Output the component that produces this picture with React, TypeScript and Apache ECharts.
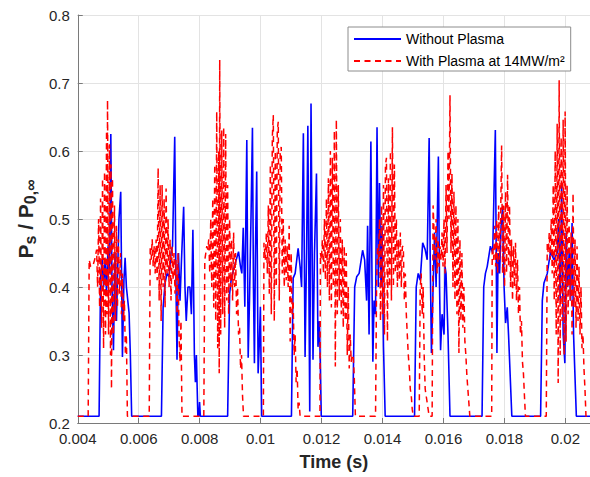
import React, { useEffect, useRef } from "react";
import * as echarts from "echarts";

// ---- data (time in s, pressure ratio) ----
const blueTime = [
  0.004, 0.0047, 0.00475, 0.0048, 0.004847, 0.0049, 0.004945, 0.004993, 0.005042, 0.005085, 0.005124, 0.005172,
  0.005221, 0.00527, 0.005319, 0.005352, 0.00541, 0.005466, 0.005515, 0.005554, 0.005596, 0.005684, 0.005726, 0.005769,
  0.006746, 0.006801, 0.006866, 0.006931, 0.006996, 0.007061, 0.00711, 0.007182, 0.007224, 0.007257, 0.007306, 0.007355,
  0.007404, 0.007475, 0.007518, 0.00756, 0.007615, 0.00768, 0.007729, 0.007778, 0.007827, 0.00786, 0.007892, 0.007941,
  0.007974, 0.007997, 0.008023,
  0.008918, 0.008983, 0.009032, 0.009136, 0.009276, 0.009341, 0.009384, 0.00943, 0.009482, 0.009547, 0.009592, 0.009635,
  0.009684, 0.009732, 0.009765, 0.009797, 0.00983, 0.009872, 0.009918, 0.00996, 0.009993, 0.010035,
  0.011012, 0.011068, 0.011133, 0.011231, 0.011296, 0.011345, 0.011403, 0.011459, 0.011508, 0.01155, 0.011612, 0.011654,
  0.011719, 0.011768, 0.011833, 0.011882, 0.011931, 0.01199,
  0.013022, 0.013087, 0.013152, 0.013233, 0.013347, 0.013413, 0.013478, 0.01351, 0.013559, 0.013618, 0.013657, 0.013683,
  0.013722, 0.013771, 0.01382, 0.013862, 0.013901, 0.01395, 0.013983, 0.014032, 0.014087,
  0.015051, 0.015106, 0.015171, 0.015237, 0.015318, 0.0154, 0.015465, 0.01553, 0.015563, 0.015605, 0.01566, 0.015709,
  0.015758, 0.015833, 0.015872, 0.015905, 0.015954, 0.016019, 0.016052, 0.016084, 0.016149, 0.016214,
  0.017266, 0.017321, 0.017377, 0.017435, 0.01754, 0.017615, 0.017702, 0.017754, 0.017793, 0.017842, 0.017891, 0.01794,
  0.017989, 0.018038, 0.018093, 0.018135, 0.018243,
  0.019187, 0.019243, 0.019298, 0.019406, 0.019513, 0.019624, 0.019732, 0.019781, 0.01983, 0.019879, 0.019928, 0.019983,
  0.020025, 0.020074, 0.020123, 0.020172, 0.02022, 0.020269, 0.02036, 0.020808,
];
const blueValue = [
  0.21, 0.21, 0.415, 0.44, 0.4, 0.44, 0.39, 0.46, 0.42, 0.625, 0.4, 0.307,
  0.45, 0.35, 0.44, 0.5, 0.54, 0.297, 0.41, 0.443, 0.4, 0.362, 0.3, 0.21,
  0.21, 0.37, 0.406, 0.42, 0.415, 0.45, 0.46, 0.621, 0.4, 0.293, 0.45, 0.38,
  0.44, 0.518, 0.4, 0.35, 0.4, 0.4, 0.36, 0.484, 0.3, 0.26, 0.3, 0.21,
  0.21, 0.231, 0.21,
  0.21, 0.39, 0.41, 0.43, 0.452, 0.43, 0.42, 0.487, 0.371, 0.616, 0.296, 0.38,
  0.5, 0.634, 0.4, 0.288, 0.45, 0.57, 0.273, 0.32, 0.371, 0.21,
  0.21, 0.413, 0.42, 0.457, 0.43, 0.4, 0.626, 0.297, 0.45, 0.637, 0.217, 0.67,
  0.293, 0.45, 0.567, 0.312, 0.35, 0.21,
  0.21, 0.4, 0.415, 0.42, 0.454, 0.44, 0.38, 0.49, 0.33, 0.614, 0.4, 0.29,
  0.38, 0.36, 0.635, 0.4, 0.553, 0.4, 0.49, 0.312, 0.21,
  0.21, 0.4, 0.42, 0.41, 0.465, 0.455, 0.44, 0.619, 0.45, 0.303, 0.4, 0.48,
  0.4, 0.592, 0.4, 0.307, 0.36, 0.33, 0.43, 0.42, 0.33, 0.21,
  0.21, 0.4, 0.42, 0.43, 0.46, 0.45, 0.631, 0.303, 0.45, 0.42, 0.49, 0.518,
  0.4, 0.347, 0.37, 0.33, 0.21,
  0.21, 0.38, 0.406, 0.42, 0.452, 0.44, 0.45, 0.5, 0.38, 0.55, 0.33, 0.288,
  0.48, 0.4, 0.45, 0.38, 0.494, 0.33, 0.21, 0.21,
];

const redTime = [
  0.004, 0.004342, 0.004375, 0.004423, 0.004489, 0.004554, 0.004619, 0.004651, 0.004684, 0.004717, 0.004749, 0.004782,
  0.004814, 0.004847, 0.004879, 0.004912, 0.004945, 0.004961, 0.004977, 0.00501, 0.005042, 0.005075, 0.005091, 0.005107,
  0.00514, 0.005173, 0.005205, 0.005238, 0.00527, 0.005303, 0.005335, 0.005368, 0.005401, 0.005433, 0.005466, 0.005498,
  0.005531, 0.005563, 0.005596, 0.005629,
  0.006345, 0.006378, 0.00641, 0.006443, 0.006475, 0.006508, 0.00654, 0.006573, 0.006606, 0.006638, 0.006671, 0.006703,
  0.006736, 0.006768, 0.006801, 0.006834, 0.006866, 0.006899, 0.006931, 0.006964, 0.006996, 0.007029, 0.007061, 0.007094,
  0.007127, 0.007159, 0.007192, 0.007224, 0.007257, 0.00729, 0.007322, 0.007355, 0.007387, 0.00742,
  0.008136, 0.008169, 0.008202, 0.008234, 0.008267, 0.008299, 0.008332, 0.008364, 0.008397, 0.00843, 0.008462, 0.008495,
  0.008527, 0.00856, 0.008592, 0.008625, 0.008642, 0.008658, 0.00869, 0.008723, 0.008755, 0.008788, 0.00882, 0.008853,
  0.008886, 0.008918, 0.008951, 0.008983, 0.009016, 0.009048, 0.009081, 0.009114, 0.009146, 0.009179, 0.009211, 0.009244,
  0.009276, 0.009309, 0.009342, 0.009374, 0.009407, 0.009439,
  0.010091, 0.01011, 0.010156, 0.010188, 0.010221, 0.010253, 0.010286, 0.010319, 0.010351, 0.010384, 0.010416, 0.010449,
  0.010481, 0.010514, 0.010547, 0.010579, 0.010612, 0.010644, 0.010677, 0.010709, 0.010742, 0.010775, 0.010807, 0.01084,
  0.010872, 0.010905, 0.010937, 0.01097, 0.011003, 0.011035, 0.011068, 0.0111, 0.011133, 0.011165, 0.011198, 0.011231,
  0.011263, 0.011296,
  0.011947, 0.011963, 0.011996, 0.012028, 0.012061, 0.012094, 0.012126, 0.012159, 0.012192, 0.012224, 0.012257, 0.012289,
  0.012322, 0.012354, 0.012387, 0.01242, 0.012452, 0.012485, 0.012517, 0.01255, 0.012582, 0.012615, 0.012647, 0.01268,
  0.012712, 0.012745, 0.012778, 0.01281, 0.012843, 0.012875, 0.012908, 0.01294, 0.012973, 0.013005, 0.013038, 0.013071,
  0.01311,
  0.013771, 0.013804, 0.013836, 0.013869, 0.013901, 0.013934, 0.013966, 0.013999, 0.014032, 0.014064, 0.014097, 0.014129,
  0.014162, 0.014194, 0.014227, 0.01426, 0.014292, 0.014325, 0.014357, 0.01439, 0.014422, 0.014455, 0.014488, 0.01452,
  0.014553, 0.014585, 0.014618, 0.014651, 0.014683, 0.014716, 0.014748, 0.014781, 0.014813, 0.014846, 0.014879, 0.014911,
  0.014944, 0.014976, 0.015009,
  0.015204, 0.015237, 0.015269, 0.015302, 0.015334, 0.015367, 0.0154, 0.01553, 0.015628, 0.01566, 0.015693, 0.015725,
  0.015758, 0.01579, 0.015823, 0.015855, 0.015888, 0.015921, 0.015953, 0.015986, 0.016018, 0.016051, 0.016084, 0.016116,
  0.016149, 0.016181, 0.016214, 0.016246, 0.016279, 0.016312, 0.016344, 0.016377, 0.016409, 0.016442, 0.016474, 0.016507,
  0.01654, 0.016572, 0.016605, 0.016637, 0.01667, 0.016702, 0.016735, 0.016768, 0.0168, 0.016833, 0.016865,
  0.017582, 0.0176, 0.017647, 0.01768, 0.017712, 0.017745, 0.017777, 0.01781, 0.017843, 0.017875, 0.017908, 0.01794,
  0.017973, 0.018005, 0.018038, 0.01807, 0.018103, 0.018136, 0.018168, 0.018201, 0.018233, 0.018266, 0.018298, 0.018331,
  0.018364, 0.018396, 0.018429, 0.018461, 0.018494, 0.018526, 0.018559, 0.018592, 0.018624, 0.018657, 0.018689,
  0.019373, 0.019406, 0.019438, 0.019471, 0.019503, 0.019536, 0.019568, 0.019601, 0.019634, 0.019666, 0.019699, 0.019731,
  0.019764, 0.019796, 0.019829, 0.019861, 0.019894, 0.019927, 0.019959, 0.019992, 0.020024, 0.020057, 0.02009, 0.020122,
  0.020155, 0.020187, 0.02022, 0.020252, 0.020285, 0.020317, 0.02035, 0.020383, 0.020415, 0.020448, 0.02048, 0.020513,
  0.020545, 0.020578, 0.02061, 0.020643, 0.020676, 0.020806,
];
const redValue = [
  0.21, 0.21, 0.44, 0.43, 0.43, 0.44, 0.455, 0.4, 0.5, 0.37, 0.53, 0.34,
  0.56, 0.31, 0.57, 0.33, 0.63, 0.36, 0.675, 0.33, 0.61, 0.3, 0.58, 0.25,
  0.56, 0.33, 0.52, 0.35, 0.49, 0.37, 0.47, 0.39, 0.45, 0.36, 0.42, 0.35,
  0.38, 0.3, 0.33, 0.21,
  0.21, 0.46, 0.44, 0.47, 0.43, 0.46, 0.42, 0.47, 0.41, 0.575, 0.38, 0.55,
  0.35, 0.55, 0.4, 0.53, 0.37, 0.545, 0.42, 0.5, 0.4, 0.47, 0.38, 0.46,
  0.41, 0.45, 0.39, 0.44, 0.36, 0.45, 0.33, 0.29, 0.35, 0.21,
  0.21, 0.44, 0.45, 0.46, 0.455, 0.47, 0.42, 0.5, 0.4, 0.53, 0.37, 0.58,
  0.35, 0.658, 0.31, 0.6, 0.273, 0.734, 0.33, 0.63, 0.36, 0.635, 0.34, 0.625,
  0.38, 0.55, 0.36, 0.5, 0.4, 0.47, 0.38, 0.48, 0.4, 0.45, 0.36, 0.4,
  0.33, 0.34, 0.28, 0.3, 0.24, 0.21,
  0.21, 0.465, 0.44, 0.48, 0.42, 0.52, 0.39, 0.58, 0.36, 0.62, 0.653, 0.35,
  0.6, 0.4, 0.63, 0.643, 0.38, 0.6, 0.606, 0.42, 0.5, 0.4, 0.47, 0.41,
  0.46, 0.4, 0.49, 0.32, 0.45, 0.36, 0.38, 0.3, 0.33, 0.26, 0.28, 0.22,
  0.23, 0.21,
  0.21, 0.45, 0.44, 0.47, 0.42, 0.5, 0.41, 0.53, 0.4, 0.56, 0.38, 0.6,
  0.37, 0.59, 0.4, 0.63, 0.283, 0.646, 0.36, 0.55, 0.38, 0.5, 0.36, 0.47,
  0.34, 0.46, 0.35, 0.45, 0.3, 0.4, 0.28, 0.33, 0.29, 0.3, 0.3, 0.27,
  0.21,
  0.21, 0.4, 0.46, 0.44, 0.5, 0.35, 0.52, 0.36, 0.55, 0.33, 0.58, 0.59,
  0.32, 0.56, 0.4, 0.6, 0.38, 0.635, 0.4, 0.58, 0.42, 0.5, 0.4, 0.47,
  0.41, 0.48, 0.4, 0.46, 0.459, 0.38, 0.42, 0.36, 0.33, 0.3, 0.28, 0.25,
  0.24, 0.22, 0.21,
  0.21, 0.4, 0.42, 0.36, 0.4, 0.3, 0.25, 0.21, 0.21, 0.52, 0.48, 0.44,
  0.5, 0.42, 0.47, 0.43, 0.46, 0.44, 0.48, 0.43, 0.5, 0.42, 0.55, 0.45,
  0.6, 0.5, 0.682, 0.45, 0.567, 0.4, 0.54, 0.38, 0.52, 0.36, 0.5, 0.303,
  0.47, 0.35, 0.45, 0.34, 0.4, 0.32, 0.3, 0.27, 0.25, 0.23, 0.21,
  0.21, 0.46, 0.44, 0.49, 0.43, 0.5, 0.42, 0.52, 0.44, 0.5, 0.608, 0.42,
  0.52, 0.4, 0.54, 0.42, 0.565, 0.43, 0.52, 0.4, 0.47, 0.38, 0.46, 0.4,
  0.465, 0.38, 0.44, 0.36, 0.4, 0.33, 0.35, 0.29, 0.273, 0.24, 0.21,
  0.21, 0.465, 0.45, 0.48, 0.44, 0.5, 0.42, 0.55, 0.38, 0.6, 0.33, 0.64,
  0.259, 0.704, 0.3, 0.62, 0.35, 0.646, 0.3, 0.658, 0.32, 0.55, 0.36, 0.5,
  0.38, 0.48, 0.33, 0.538, 0.37, 0.47, 0.34, 0.46, 0.35, 0.43, 0.33, 0.4,
  0.31, 0.33, 0.28, 0.25, 0.21, 0.21,
];

const seriesNames = ["Without Plasma", "With Plasma at 14MW/m\u00B2"];
const xMin = 0.004;
const xMax = 0.020808;
const xStep = 0.002;
const yMin = 0.2;
const yMax = 0.8;
const yStep = 0.1;

const FONT = "Liberation Sans, Arial, Helvetica, sans-serif";
const TXT = "#262626";

export default function App() {
  const ref = useRef<HTMLDivElement>(null);
  useEffect(() => {
    if (!ref.current) return;
    const chart = echarts.init(ref.current, undefined, { renderer: "svg" });
    const blueData = blueTime.map((t, i) => [t, blueValue[i]]);
    const redData = redTime.map((t, i) => [t, redValue[i]]);
    chart.setOption({
      animation: false,
      backgroundColor: "#ffffff",
      grid: { left: 74, top: 15, right: 0, bottom: 54, containLabel: false },
      legend: {
        orient: "vertical",
        left: 348,
        top: 27,
        itemWidth: 47,
        itemHeight: 14,
        itemGap: 8,
        padding: [5, 6, 3, 5],
        backgroundColor: "#ffffff",
        borderColor: "#8c8c8c",
        borderWidth: 1,
        selectedMode: false,
        itemStyle: { opacity: 0 },
        textStyle: { fontSize: 14, color: "#000000", fontFamily: FONT },
        data: seriesNames,
      },
      xAxis: {
        type: "value",
        min: xMin,
        max: xMax,
        interval: xStep,
        name: "Time (s)",
        nameLocation: "middle",
        nameGap: 30,
        nameTextStyle: { fontSize: 18, fontWeight: "bold", color: TXT, fontFamily: FONT },
        axisLine: { show: true, lineStyle: { color: "#7a7a7a", width: 1 } },
        axisTick: { show: true, inside: true, length: 5, lineStyle: { color: "#7a7a7a" } },
        axisLabel: {
          show: true,
          margin: 8,
          fontSize: 15,
          color: TXT,
          fontFamily: FONT,
          showMaxLabel: false,
          formatter: (v: number) => {
            const r = Math.round(v * 1000) / 1000;
            if (Math.abs(v - r) > 1e-9) return "";
            return String(r);
          },
        },
        splitLine: { show: true, lineStyle: { color: "#e3e3e3", width: 1 } },
      },
      yAxis: {
        type: "value",
        min: yMin,
        max: yMax,
        interval: yStep,
        name: "{b|P}{s|s}{b| / P}{s|0,\u221E}",
        nameLocation: "middle",
        nameRotate: 90,
        nameGap: 36,
        nameTextStyle: {
          color: TXT,
          fontFamily: FONT,
          rich: {
            b: { fontSize: 21, fontWeight: "bold", color: TXT, fontFamily: FONT, lineHeight: 26 },
            s: {
              fontSize: 16,
              fontWeight: "bold",
              color: TXT,
              fontFamily: FONT,
              lineHeight: 16,
              padding: [14, 0, 0, 0],
              verticalAlign: "bottom",
            },
          },
        },
        axisLine: { show: true, lineStyle: { color: "#7a7a7a", width: 1 } },
        axisTick: { show: true, inside: true, length: 5, lineStyle: { color: "#7a7a7a" } },
        axisLabel: {
          margin: 8,
          fontSize: 15,
          color: TXT,
          fontFamily: FONT,
          formatter: (v: number) => v.toFixed(1),
        },
        splitLine: { show: true, lineStyle: { color: "#e3e3e3", width: 1 } },
      },
      series: [
        {
          name: seriesNames[0],
          type: "line",
          data: blueData,
          symbol: "none",
          showSymbol: false,
          lineStyle: { color: "#0000ff", width: 1.6 },
          itemStyle: { color: "#0000ff" },
          emphasis: { disabled: true },
        },
        {
          name: seriesNames[1],
          type: "line",
          data: redData,
          symbol: "none",
          showSymbol: false,
          lineStyle: { color: "#ff0000", width: 1.5, type: [6, 4.5] },
          itemStyle: { color: "#ff0000" },
          emphasis: { disabled: true },
        },
      ],
    });
    return () => chart.dispose();
  }, []);
  return (
    <div
      ref={ref}
      style={{ position: "fixed", left: 0, top: 0, width: 590, height: 477, background: "#fff" }}
    />
  );
}
